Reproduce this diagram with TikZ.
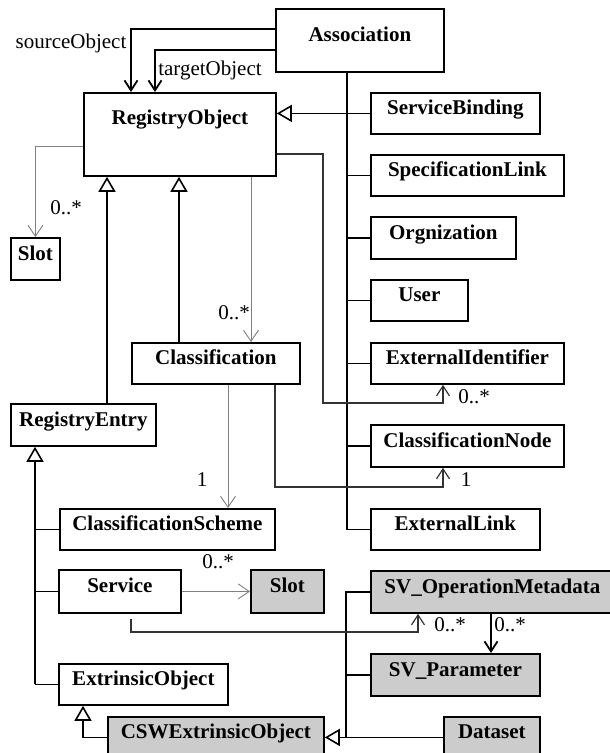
\documentclass[tikz,border=0pt]{standalone}
\usepackage{fontspec}
\setmainfont{Liberation Serif}
\usetikzlibrary{arrows.meta}

\tikzset{
  uml/.style={draw, line width=1.8pt, inner sep=0pt, anchor=north west,
    font=\fontsize{21}{25}\selectfont\bfseries, text height=14pt, text depth=11pt},
  umlgray/.style={uml, fill=black!20},
  lbl/.style={font=\fontsize{21}{25}\selectfont, inner sep=0pt},
  link/.style={line width=1.8pt},
  gen/.style={line width=1.6pt, -{Triangle[open, length=15pt, width=17pt]}},
  nav/.style={line width=1.8pt, -{Straight Barb[length=10pt, width=13pt]}},
  navlink/.style={line width=1.2pt, black!80, -{Straight Barb[length=10pt, width=13pt]}},
  weak/.style={line width=0.9pt, black!50, -{Straight Barb[length=11pt, width=15pt]}},
}

\begin{document}
\begin{tikzpicture}[x=1pt, y=-1pt]
      \clip (0,0) rectangle (610,753);
      % classes
      \node[uml, minimum width=168pt, minimum height=63pt] (asso) at (275,8) {Association};
      \node[uml, minimum width=192pt, minimum height=83pt, text depth=33pt] (ro) at (83,92) {RegistryObject};
      \node[uml, minimum width=169pt, minimum height=41pt] (sb) at (370,92) {ServiceBinding};
      \node[uml, minimum width=193pt, minimum height=41pt] (spec) at (370,154) {SpecificationLink};
      \node[uml, minimum width=145pt, minimum height=42pt] (org) at (370,216) {Orgnization};
      \node[uml, minimum width=97pt, minimum height=41pt] (user) at (370,279) {User};
      \node[uml, minimum width=193pt, minimum height=41pt] (extid) at (370,342) {ExternalIdentifier};
      \node[uml, minimum width=49pt, minimum height=42pt] (slot) at (10,237) {Slot};
      \node[uml, minimum width=168pt, minimum height=41pt] (cls) at (131,342) {Classification};
      \node[uml, minimum width=145pt, minimum height=42pt] (re) at (10,403) {RegistryEntry};
      \node[uml, minimum width=193pt, minimum height=42pt] (cnode) at (370,424) {ClassificationNode};
      \node[uml, minimum width=215pt, minimum height=41pt] (cscheme) at (59,508) {ClassificationScheme};
      \node[uml, minimum width=169pt, minimum height=41pt] (elink) at (370,508) {ExternalLink};
      \node[uml, minimum width=122pt, minimum height=43pt] (serv) at (58,569) {Service};
      \node[umlgray, minimum width=73pt, minimum height=43pt] (slotb) at (250,569) {Slot};
      \node[umlgray, minimum width=243pt, minimum height=42pt] (svom) at (370,570) {SV\_OperationMetadata};
      \node[umlgray, minimum width=169pt, minimum height=42pt] (svpar) at (370,653) {SV\_Parameter};
      \node[uml, minimum width=169pt, minimum height=41pt] (extr) at (58,663) {ExtrinsicObject};
      \node[umlgray, minimum width=216pt, minimum height=41pt] (csw) at (107,716) {CSWExtrinsicObject};
      \node[umlgray, minimum width=96pt, minimum height=41pt] (data) at (443,716) {Dataset};
      % association ends
      \draw[nav] (asso.west |- 0,29) -| (131,0 |- ro.north);
      \node[lbl] (srclbl) at (71,43) {sourceObject};
      \draw[nav] (asso.west |- 0,50) -| (155,0 |- ro.north);
      \node[lbl] (tgtlbl) at (210,70) {targetObject};
      % subclasses on the right
      \draw[link] (347,0 |- asso.south) |- (elink.west);
      \foreach \n in {spec,org,user,extid,cnode}
        \draw[link] (347,0 |- \n.west) -- (\n.west);
      \draw[gen] (sb.west) -- (ro.east |- sb.west);
      % subclasses on the left
      \draw[gen] (107,0 |- re.north) -- (107,0 |- ro.south);
      \draw[gen] (179,0 |- cls.north) -- (179,0 |- ro.south);
      \draw[gen] (35,0 |- extr.west) -- (35,0 |- re.south);
      \foreach \n in {cscheme,serv,extr}
        \draw[link] (35,0 |- \n.west) -- (\n.west);
      \draw[gen] (csw.west) -| (83,0 |- extr.south);
      \draw[gen] (data.west) -- (csw.east);
      \draw[link] (svom.west) -| (346,0 |- csw.east);
      \draw[link] (346,0 |- svpar.west) -- (svpar.west);
      % slots and schemes
      \draw[weak] (ro.west |- 0,146) -| (slot.north);
      \node[lbl] (mslot) at (66,208) {0..*};
      \draw[weak] (251,0 |- ro.south) -- (251,0 |- cls.north);
      \node[lbl] (mcls) at (234,313) {0..*};
      \draw[weak] (228,0 |- cls.south) -- (228,0 |- cscheme.north);
      \node[lbl] (mscheme) at (202,480) {1};
      \draw[weak] (serv.east) -- (slotb.west);
      \node[lbl] (mslotb) at (218,562) {0..*};
      % references
      \draw[navlink] (ro.east |- 0,154) -| (323,403) -| (443,0 |- extid.south);
      \node[lbl] (mextid) at (474,397) {0..*};
      \draw[navlink] (275,0 |- cls.south) |- (443,487) -- (443,0 |- cnode.south);
      \node[lbl] (mcnode) at (466,480) {1};
      \coordinate (servtail) at (131,619);
      \draw[navlink] (servtail) |- (418,632) -- (418,0 |- svom.south);
      \node[lbl] (msvom) at (450,625) {0..*};
      \draw[nav] (491,0 |- svom.south) -- (491,0 |- svpar.north);
      \node[lbl] (msvpar) at (510,625) {0..*};
    \end{tikzpicture}
\end{document}
